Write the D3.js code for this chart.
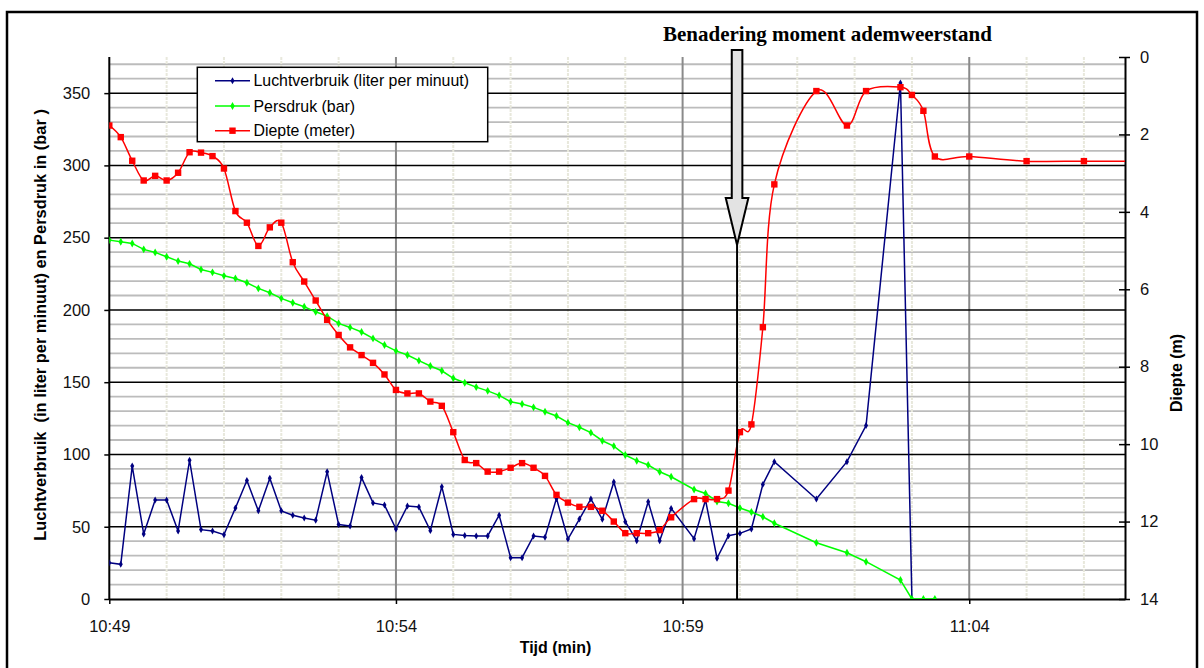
<!DOCTYPE html>
<html><head><meta charset="utf-8">
<script src="https://cdn.jsdelivr.net/npm/d3@7"></script>
<style>
html,body{margin:0;padding:0;background:#fff;}
svg{display:block;}
</style></head>
<body>
<svg id="chart" width="1204" height="668"></svg>
<script>
// ---- DATA ----
const times = [
 "10:49:00","10:49:12","10:49:24","10:49:36","10:49:48","10:50:00","10:50:12","10:50:24","10:50:36","10:50:48",
 "10:51:00","10:51:12","10:51:24","10:51:36","10:51:48","10:52:00","10:52:12","10:52:24","10:52:36","10:52:48",
 "10:53:00","10:53:12","10:53:24","10:53:36","10:53:48","10:54:00","10:54:12","10:54:24","10:54:36","10:54:48",
 "10:55:00","10:55:12","10:55:24","10:55:36","10:55:48","10:56:00","10:56:12","10:56:24","10:56:36","10:56:48",
 "10:57:00","10:57:12","10:57:24","10:57:36","10:57:48","10:58:00","10:58:12","10:58:24","10:58:36","10:58:48",
 "10:59:12","10:59:24","10:59:36","10:59:48","11:00:00","11:00:12","11:00:24","11:00:36",
 "11:01:20","11:01:52","11:02:12","11:02:48","11:03:00","11:03:12","11:03:24","11:04:00","11:05:00","11:06:00","11:07:00"
];
const luchtverbruik = [
 25,24,92,45,68.5,68.5,47,96,48,47,
 44.5,63,82,61,83.5,61,58,56,54.5,88,
 51.5,50.5,84,66.5,65,48.5,64.3,63.6,47.3,77.7,
 44.7,44,43.6,43.6,58,28.6,28.6,43.6,42.7,69.6,
 41.5,55.3,69.2,55.1,81,53.5,40.3,67.3,40.3,62.7,
 41.7,68.5,28.2,43.8,45.4,48.4,79.3,95,
 69.2,95,120,357,0,null,null,null,null,null,null
];
const persdruk = [
 248.3,247.2,246,241.9,239.8,236.8,233.8,231.9,228,226,
 223.6,221.8,218.8,214.9,211.9,208,205,202.2,198.7,195.7,
 190.7,187.9,184.7,180.3,175.7,171.7,168.8,164.9,161.2,157.9,
 152.7,149.6,146.6,144,140.9,136.5,134.9,132.6,129.6,126.6,
 122,118.8,115.1,109.5,105.8,99.6,95.7,92.7,88,84.6,
 75.8,73,67.5,66.2,63,60.2,56.9,52.4,
 38.9,32,25.8,13.1,0,0,0,null,null,null,null
];
const diepte = [
 1.77,2.07,2.68,3.19,3.07,3.19,2.99,2.46,2.47,2.56,
 2.88,3.98,4.28,4.88,4.40,4.28,5.30,5.80,6.29,6.79,
 7.18,7.50,7.70,7.90,8.20,8.60,8.69,8.69,8.90,9.01,
 9.69,10.41,10.49,10.71,10.71,10.61,10.49,10.61,10.82,11.31,
 11.51,11.62,11.62,11.72,12.00,12.30,12.30,12.30,12.22,11.89,
 11.42,11.42,11.42,11.20,9.69,9.49,6.98,3.29,
 0.88,1.77,0.88,0.78,0.98,1.39,2.57,2.57,2.69,2.69,2.69
];
const xTickLabels = ["10:49","10:54","10:59","11:04"];
const leftTicks = [0,50,100,150,200,250,300,350];
const rightTicks = [0,2,4,6,8,10,12,14];
const seriesNames = ["Luchtverbruik (liter per minuut)","Persdruk (bar)","Diepte (meter)"];
const annotationTime = "10:59:57";
const annotationText = "Benadering moment ademweerstand";

// ---- SETUP ----
const SANS = "'Liberation Sans',Arial,sans-serif";
const SERIF = "'Liberation Serif','Times New Roman',serif";
const startSec = 10*3600+49*60;
const secs = t => { const p = t.split(":").map(Number); return p[0]*3600+p[1]*60+(p[2]||0)-startSec; };
const L = 109.3, R = 1125, T = 57, B = 599;
const x = d3.scaleLinear().domain([0,1063]).range([L,R]);
const yL = d3.scaleLinear().domain([0,375]).range([B,T]);
const yR = d3.scaleLinear().domain([0,14]).range([T,B]);

const svg = d3.select("#chart").style("font-family",SANS);
svg.append("rect").attr("x",7).attr("y",12).attr("width",1190).attr("height",670)
  .attr("fill","#fff").attr("stroke","#000").attr("stroke-width",2.5);

svg.append("clipPath").attr("id","clip").append("rect")
  .attr("x",L).attr("y",T-5).attr("width",R-L).attr("height",B-T+5);

const grid = svg.append("g");
d3.range(10,376,10).filter(v=>v%50!==0).forEach(v=>{
  grid.append("line").attr("x1",L).attr("x2",R).attr("y1",yL(v)).attr("y2",yL(v))
    .attr("stroke","#bcbcbc").attr("stroke-width",1.8);
});
d3.range(60,1063,60).filter(s=>s%300!==0).forEach(s=>{
  grid.append("line").attr("x1",x(s)).attr("x2",x(s)).attr("y1",T).attr("y2",B)
    .attr("stroke","#e8e8dc").attr("stroke-width",2).attr("stroke-dasharray","3,1");
});
xTickLabels.slice(1).forEach(t=>{
  const s = secs(t+":00");
  grid.append("line").attr("x1",x(s)).attr("x2",x(s)).attr("y1",T).attr("y2",B)
    .attr("stroke","#8a8a8a").attr("stroke-width",2);
});
leftTicks.filter(v=>v>0).forEach(v=>{
  grid.append("line").attr("x1",L).attr("x2",R).attr("y1",yL(v)).attr("y2",yL(v))
    .attr("stroke","#000").attr("stroke-width",1.5);
});

// ---- AXES ----
const axL = svg.append("g").attr("transform",`translate(${L},0)`)
  .call(d3.axisLeft(yL).tickValues(leftTicks).tickSizeInner(5).tickSizeOuter(0).tickPadding(14));
axL.select(".domain").attr("d",`M0,${T}V${B}`);
const axB = svg.append("g").attr("transform",`translate(0,${B})`)
  .call(d3.axisBottom(x).tickValues(xTickLabels.map(t=>secs(t+":00"))).tickFormat((d,i)=>xTickLabels[i])
    .tickSizeInner(5).tickSizeOuter(0).tickPadding(16));
const axR = svg.append("g").attr("transform",`translate(${R},0)`)
  .call(d3.axisRight(yR).tickValues(rightTicks).tickSizeInner(5).tickSizeOuter(0).tickPadding(10));
axR.selectAll(".tick line").attr("x1",-6).attr("x2",5);
[axL,axB,axR].forEach(a=>{
  a.attr("font-family",null).attr("font-size",null);
  a.select(".domain").attr("stroke","#000").attr("stroke-width",2);
  a.selectAll(".tick line").attr("stroke","#000").attr("stroke-width",1.5);
  a.selectAll("text").style("font-family",SANS).style("font-size","16.5px").attr("fill","#111");
});

// axis titles
svg.append("text").attr("transform","translate(46,325) rotate(-90)").attr("text-anchor","middle")
  .style("font-size","16.4px").style("white-space","pre").attr("font-weight","bold")
  .text("Luchtverbruik  (in liter per minuut) en Persdruk in (bar )");
svg.append("text").attr("transform","translate(1182,373) rotate(-90)").attr("text-anchor","middle")
  .style("font-size","16px").attr("font-weight","bold").text("Diepte (m)");
svg.append("text").attr("x",555.5).attr("y",653).attr("text-anchor","middle")
  .style("font-size","16px").attr("font-weight","bold").text("Tijd (min)");

// ---- SERIES ----
const rows = times.map((t,i)=>({s:secs(t), a:luchtverbruik[i], p:persdruk[i], d:diepte[i]}));
const plot = svg.append("g").attr("clip-path","url(#clip)");
const colors = {a:"#000080", p:"#00ff00", d:"#ff0000"};

function drawSeries(key, yScale, curve, marker){
  const pts = rows.filter(r=>r[key]!==null);
  plot.append("path").datum(pts)
    .attr("d", d3.line().x(r=>x(r.s)).y(r=>yScale(r[key])).curve(curve))
    .attr("fill","none").attr("stroke",colors[key]).attr("stroke-width",1.5);
  const inDomain = pts.filter(r=>r.s<=1063);
  if(marker==="square"){
    plot.selectAll(null).data(inDomain).enter().append("rect")
      .attr("x",r=>x(r.s)-3.2).attr("y",r=>yScale(r[key])-3.2)
      .attr("width",6.4).attr("height",6.4).attr("fill",colors[key]);
  } else {
    plot.selectAll(null).data(inDomain).enter().append("path")
      .attr("transform",r=>`translate(${x(r.s)},${yScale(r[key])})`)
      .attr("d",d3.symbol(d3.symbolDiamond, marker==="small"?14:18)())
      .attr("fill",colors[key]);
  }
}
drawSeries("a", yL, d3.curveLinear, "small");
drawSeries("p", yL, d3.curveLinear, "diamond");
drawSeries("d", yR, d3.curveCardinal.tension(0), "square");

// ---- ANNOTATION ----
const ax = x(secs(annotationTime));
svg.append("line").attr("x1",ax).attr("x2",ax).attr("y1",245).attr("y2",B)
  .attr("stroke","#000").attr("stroke-width",2);
svg.append("path")
  .attr("d",`M${ax-5.3},50 H${ax+5.3} V198 H${ax+11.3} L${ax},245 L${ax-11.3},198 H${ax-5.3} Z`)
  .attr("fill","#e3e3e3").attr("stroke","#000").attr("stroke-width",2).attr("stroke-linejoin","miter");
svg.append("text").attr("x",663).attr("y",40.5)
  .style("font-family",SERIF).style("font-size","21px").attr("font-weight","bold").text(annotationText);

// ---- LEGEND ----
const lg = svg.append("g");
lg.append("rect").attr("x",197.3).attr("y",67.3).attr("width",290.4).attr("height",74.4)
  .attr("fill","#fff").attr("stroke","#000").attr("stroke-width",1.5);
const legendKeys = ["a","p","d"];
const rowY = [80.7,106,130.7];
legendKeys.forEach((k,i)=>{
  const y = rowY[i];
  lg.append("line").attr("x1",215).attr("x2",250).attr("y1",y).attr("y2",y)
    .attr("stroke",colors[k]).attr("stroke-width",1.5);
  if(k==="d"){
    lg.append("rect").attr("x",229.3).attr("y",y-3.2).attr("width",6.4).attr("height",6.4).attr("fill",colors[k]);
  } else {
    lg.append("path").attr("transform",`translate(232.5,${y})`)
      .attr("d",d3.symbol(d3.symbolDiamond, k==="a"?14:18)()).attr("fill",colors[k]);
  }
  lg.append("text").attr("x",253.5).attr("y",y).attr("dy","0.36em")
    .style("font-size","15.9px").attr("fill","#000").text(seriesNames[i]);
});
</script>
</body></html>
